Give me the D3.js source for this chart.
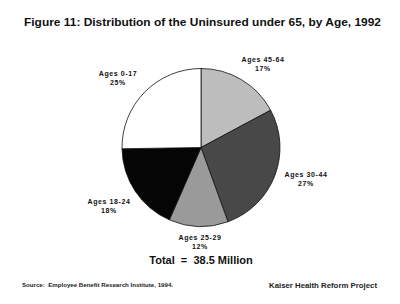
<!DOCTYPE html>
<html>
<head>
<meta charset="utf-8">
<script src="https://cdn.jsdelivr.net/npm/d3@7"></script>
<style>
  body { margin: 0; background: #fff; }
  svg { display: block; font-family: "Liberation Sans", Arial, sans-serif; }
  text { white-space: pre; }
</style>
</head>
<body>
<script>
// slices, clockwise from 12 o'clock
const ages = ["45-64", "30-44", "25-29", "18-24", "0-17"];
const shares = [17, 27, 12, 18, 25];
const fills = ["#bdbdbd", "#484848", "#9a9a9a", "#050505", "#ffffff"];
// where each label sits (centre x, first baseline y)
const labelPos = [[263, 62], [306, 177], [200, 240], [109, 204], [118, 76]];

const w = 400, h = 304;
const cx = 201, cy = 147.5, r = 79;

const svg = d3.select("body").append("svg")
  .attr("width", w)
  .attr("height", h);

svg.append("text")
  .attr("x", 24).attr("y", 26)
  .attr("font-size", 11).attr("font-weight", "bold")
  .attr("textLength", 357).attr("lengthAdjust", "spacingAndGlyphs")
  .attr("fill", "#111")
  .text("Figure 11: Distribution of the Uninsured under 65, by Age, 1992");

const pie = d3.pie().sort(null).value(d => d);
const arc = d3.arc().innerRadius(0).outerRadius(r);

const g = svg.append("g").attr("transform", `translate(${cx},${cy})`);
g.selectAll("path")
  .data(pie(shares))
  .enter()
  .append("path")
  .attr("d", arc)
  .attr("fill", (d, i) => fills[i])
  .attr("stroke", "#111")
  .attr("stroke-width", 0.8);

const labels = svg.selectAll(".lbl")
  .data(ages)
  .enter()
  .append("text")
  .attr("class", "lbl")
  .attr("text-anchor", "middle")
  .attr("font-size", 7)
  .attr("font-weight", "bold")
  .attr("letter-spacing", 0.6)
  .attr("fill", "#111");
labels.append("tspan")
  .attr("x", (d, i) => labelPos[i][0])
  .attr("y", (d, i) => labelPos[i][1])
  .text(d => "Ages " + d);
labels.append("tspan")
  .attr("x", (d, i) => labelPos[i][0])
  .attr("y", (d, i) => labelPos[i][1] + 8.5)
  .text((d, i) => shares[i] + "%");

svg.append("text")
  .attr("x", 201).attr("y", 264)
  .attr("text-anchor", "middle")
  .attr("font-size", 11).attr("font-weight", "bold")
  .attr("fill", "#111")
  .text("Total  =  38.5 Million");

svg.append("text")
  .attr("x", 22).attr("y", 287)
  .attr("font-size", 5).attr("font-weight", "bold")
  .attr("textLength", 151).attr("lengthAdjust", "spacingAndGlyphs")
  .attr("fill", "#222")
  .text("Source:  Employee Benefit Research Institute, 1994.");

svg.append("text")
  .attr("x", 269).attr("y", 288)
  .attr("font-size", 7.5).attr("font-weight", "bold")
  .attr("textLength", 108).attr("lengthAdjust", "spacingAndGlyphs")
  .attr("fill", "#222")
  .text("Kaiser Health Reform Project");
</script>
</body>
</html>
